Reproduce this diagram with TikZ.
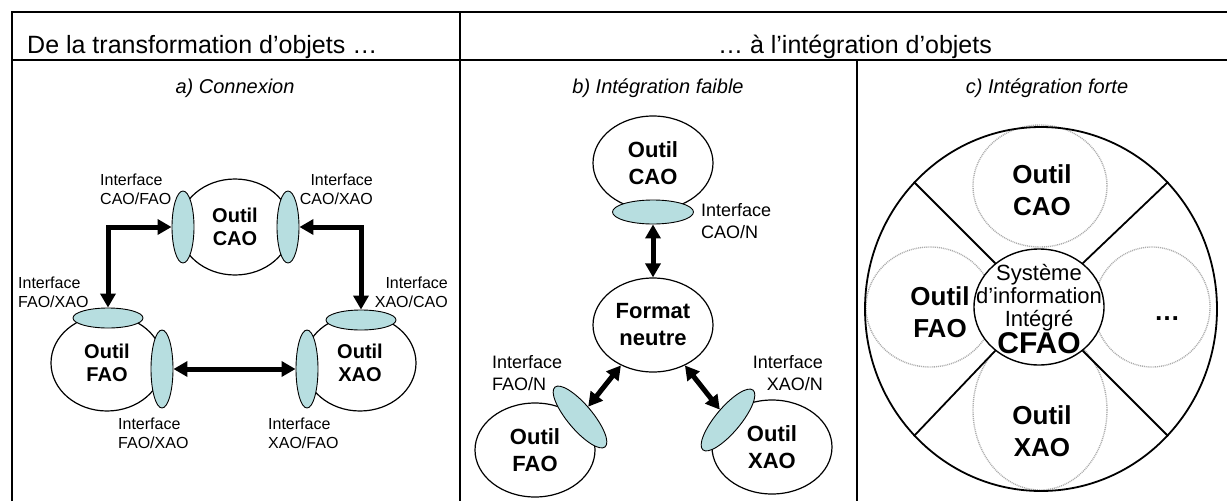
\documentclass[tikz,border=0pt]{standalone}
\usepackage{fontspec}
\setmainfont{Liberation Sans}
\usepackage{tikz}
\usetikzlibrary{arrows.meta,positioning,calc,shapes.geometric}
\usepackage{xcolor}
\definecolor{ifacefill}{RGB}{183,222,224}

\begin{document}
\begin{tikzpicture}[x=1pt, y=-1pt,
  tool/.style={ellipse, draw, line width=1.2pt, fill=white, inner sep=0pt, align=center},
  toolA/.style={tool, minimum width=112pt, minimum height=96pt, font=\fontsize{20}{23}\selectfont\bfseries},
  toolB/.style={tool, minimum width=120pt, minimum height=94pt, font=\fontsize{22}{27}\selectfont\bfseries},
  toolC/.style={inner sep=0pt, align=center, font=\fontsize{26}{32}\selectfont\bfseries},
  iface/.style={ellipse, draw, line width=0.9pt, fill=ifacefill, inner sep=0pt},
  vface/.style={iface, minimum width=22pt, minimum height=72pt},
  hface/.style={iface, minimum width=70pt, minimum height=20pt},
  lblA/.style={inner sep=0pt, font=\fontsize{16}{19}\selectfont},
  lblB/.style={inner sep=0pt, font=\fontsize{18}{22}\selectfont},
  link/.style={line width=5pt, {Triangle[length=14pt,width=15pt]}-{Triangle[length=14pt,width=15pt]}},
  slot/.style={ellipse, draw=gray!65, line width=1.4pt, dash pattern=on 1pt off 0.9pt, inner sep=0pt},
  rule/.style={line width=1.6pt}]
  \useasboundingbox (0,0) rectangle (1227,501);

  % table frame
  \draw[rule] (12,501) -- (12,12) -- (1227,12);
  \draw[rule] (12,60) -- (1227,60);
  \draw[rule] (460,12) -- (460,501);
  \draw[rule] (857,60) -- (857,501);

  \node[inner sep=0pt, anchor=base west, font=\fontsize{25}{30}\selectfont] (headA) at (27,53) {De la transformation d’objets …};
  \node[inner sep=0pt, anchor=base, font=\fontsize{25}{30}\selectfont] (headB) at (855,53) {… à l’intégration d’objets};

  \node[inner sep=0pt, anchor=base, font=\fontsize{20}{24}\selectfont\itshape] (subA) at (235,93) {a) Connexion};
  \node[inner sep=0pt, anchor=base, font=\fontsize{20}{24}\selectfont\itshape] (subB) at (658,93) {b) Intégration faible};
  \node[inner sep=0pt, anchor=base, font=\fontsize{20}{24}\selectfont\itshape] (subC) at (1047,93) {c) Intégration forte};

  % a) connexion
  \node[toolA] (caoA) at (235,227) {Outil\\CAO};
  \node[toolA] (faoA) at (107,363) {Outil\\FAO};
  \node[toolA] (xaoA) at (360,363) {Outil\\XAO};
  \node[vface] (cafao) at (183,227) {};
  \node[vface] (caxao) at (288,227) {};
  \node[hface] (fatop) at (108,318) {};
  \node[vface, minimum height=78pt] (fax) at (162,369) {};
  \node[hface] (xatop) at (361,320) {};
  \node[vface, minimum height=78pt] (xaf) at (307,369) {};

  \draw[link] (cafao.west) -| (fatop.north);
  \draw[link] (caxao.east) -| (xatop.north);
  \draw[link] (fax.east) -- (xaf.west);

  \node[lblA, anchor=west, align=left] (lcafao) at (100,189) {Interface\\CAO/FAO};
  \node[lblA, anchor=east, align=right] (lcaxao) at (373,189) {Interface\\CAO/XAO};
  \node[lblA, anchor=west, align=left] (lfaxao) at (18,292) {Interface\\FAO/XAO};
  \node[lblA, anchor=east, align=right] (lxacao) at (448,292) {Interface\\XAO/CAO};
  \node[lblA, anchor=west, align=left] (lfaxaob) at (118,433) {Interface\\FAO/XAO};
  \node[lblA, anchor=west, align=left] (lxafao) at (268,433) {Interface\\XAO/FAO};

  % b) integration faible
  \node[toolB] (caoB) at (653,163) {Outil\\CAO};
  \node[toolB] (neutre) at (653,325) {Format\\neutre};
  \node[toolB] (faoB) at (535,450) {Outil\\FAO};
  \node[toolB] (xaoB) at (772,447) {Outil\\XAO};
  \node[iface, minimum width=81pt, minimum height=24pt] (cn) at (653,212) {};
  \node[iface, minimum width=78pt, minimum height=25pt, rotate=-50] (fan) at (580,417) {};
  \node[iface, minimum width=78pt, minimum height=25pt, rotate=50] (xan) at (728,420) {};

  \draw[link] (cn.south) -- (neutre.north);
  \draw[link] (neutre) -- (fan);
  \draw[link] (neutre) -- (xan);

  \node[lblB, anchor=west, align=left] (lcn) at (701,221) {Interface\\CAO/N};
  \node[lblB, anchor=west, align=left] (lfan) at (492,373) {Interface\\FAO/N};
  \node[lblB, anchor=east, align=right] (lxan) at (823,373) {Interface\\XAO/N};

  % c) integration forte
  \node[slot, minimum width=134pt, minimum height=122pt] (slotN) at (1040,186) {};
  \node[slot, minimum width=128pt, minimum height=120pt] (slotW) at (930,307) {};
  \node[slot, minimum width=116pt, minimum height=120pt] (slotE) at (1152,307) {};
  \node[slot, minimum width=134pt, minimum height=160pt] (slotS) at (1040,410) {};
  \node[ellipse, draw, line width=1.8pt, minimum width=352pt, minimum height=364pt, inner sep=0pt] (whole) at (1041,309) {};
  \node[ellipse, draw, line width=1.4pt, fill=white, minimum width=130pt, minimum height=116pt, inner sep=0pt] (sic) at (1039,307) {};
  \foreach \a in {45,135,225,315}
    \draw[line width=1.8pt] (sic.\a) -- (whole.\a);

  \node[toolC] (tN) at (1042,190) {Outil\\CAO};
  \node[toolC] (tW) at (940,312) {Outil\\FAO};
  \node[toolC, anchor=base] (tE) at (1167,320) {…};
  \node[toolC] (tS) at (1042,431) {Outil\\XAO};
  \node[inner sep=0pt, align=center, font=\fontsize{22}{23}\selectfont] (sictext) at (1039,309)
    {Système\\d’information\\Intégré\\[1pt]{\fontsize{30}{30}\selectfont\bfseries CFAO}};
\end{tikzpicture}
\end{document}
